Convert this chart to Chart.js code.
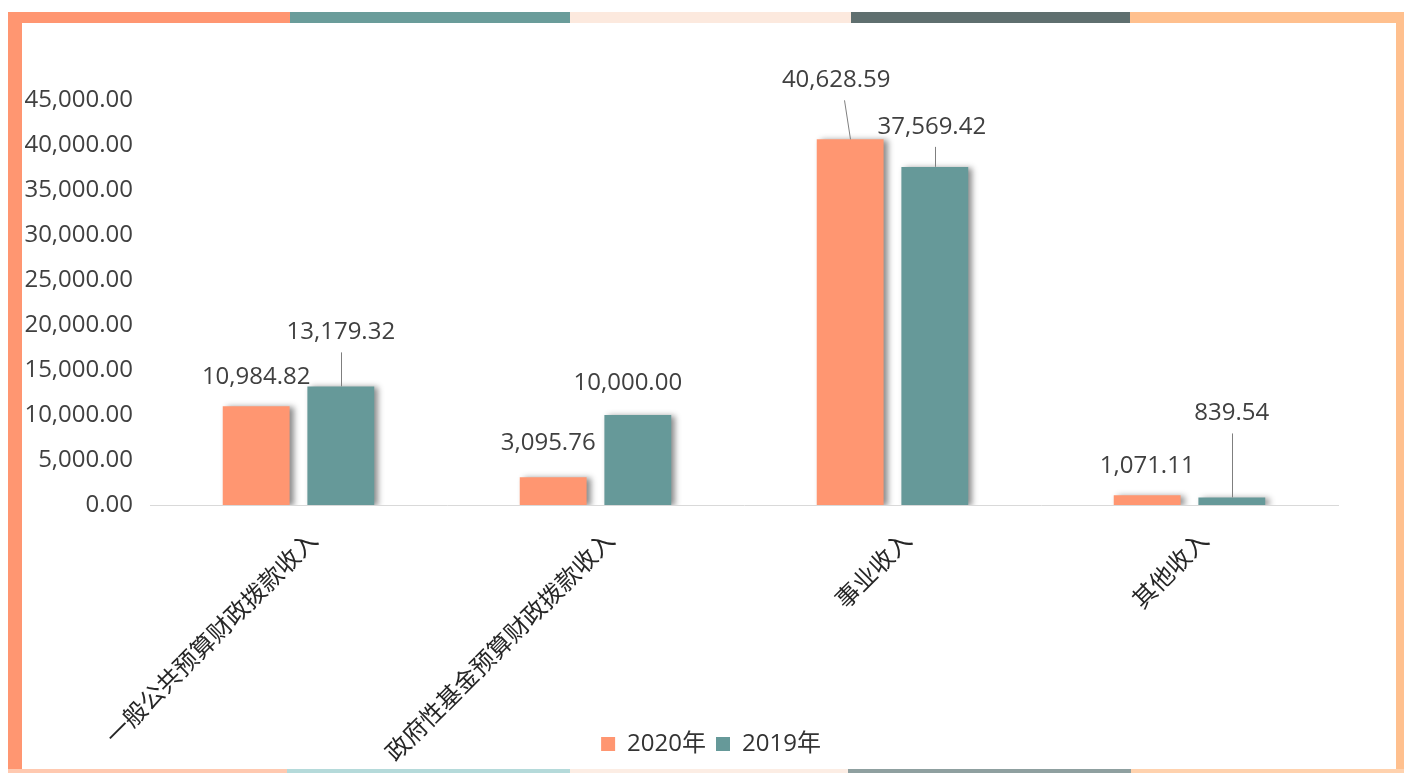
<!DOCTYPE html>
<html>
<head>
<meta charset="utf-8">
<script src="https://cdn.jsdelivr.net/npm/chart.js@4.4.1/dist/chart.umd.min.js"></script>
<style>
  html, body { margin: 0; padding: 0; background: #ffffff; }
  #wrap { position: relative; width: 1407px; height: 773px; overflow: hidden; }
  .seg { position: absolute; }
  canvas { position: absolute; left: 0; top: 0; }
</style>
</head>
<body>
<div id="wrap">
  <!-- decorative frame -->
  <div class="seg" style="left:8px;top:12px;width:282px;height:11px;background:#FF9671"></div>
  <div class="seg" style="left:290px;top:12px;width:280px;height:11px;background:#6A9C9A"></div>
  <div class="seg" style="left:570px;top:12px;width:281px;height:11px;background:#FCE9DE"></div>
  <div class="seg" style="left:851px;top:12px;width:279px;height:11px;background:#5F6F6F"></div>
  <div class="seg" style="left:1130px;top:12px;width:274px;height:11px;background:#FFC08E"></div>
  <div class="seg" style="left:8px;top:12px;width:14px;height:761px;background:#FF9671"></div>
  <div class="seg" style="left:1396px;top:12px;width:8px;height:761px;background:#FFC08E"></div>
  <div class="seg" style="left:8px;top:769px;width:279px;height:4px;background:#FFC9B0"></div>
  <div class="seg" style="left:287px;top:769px;width:283px;height:4px;background:#B5DADA"></div>
  <div class="seg" style="left:570px;top:769px;width:278px;height:4px;background:#FCEDE4"></div>
  <div class="seg" style="left:848px;top:769px;width:283px;height:4px;background:#8FA0A0"></div>
  <div class="seg" style="left:1131px;top:769px;width:273px;height:4px;background:#FFD2AE"></div>
  <canvas id="c" width="1407" height="773"></canvas>
</div>
<script>
// ---- data ----
const categories = ['一般公共预算财政拨款收入', '政府性基金预算财政拨款收入', '事业收入', '其他收入'];
const seriesNames = ['2020年', '2019年'];
const values2020 = [10984.82, 3095.76, 40628.59, 1071.11];
const values2019 = [13179.32, 10000.00, 37569.42, 839.54];
const yTickMin = 0;
const yTickMax = 45000;
const yTickStep = 5000;

// ---- styles ----
const colors = ['#FF9671', '#669999'];
const fontStack = '"Open Sans", "Noto Sans CJK SC", sans-serif';
// label placement (style): [dx, dy above bar top, leader-line top dx] per dataset/index
const labelPlacement = [
  [[0, 29, null], [-5, 34, null], [-14, 59, -6], [0, 29, null]],
  [[0, 54, 0], [-10, 32, null], [-3, 40, 0], [0, 84, 0]]
];

function fmt(v) {
  return v.toLocaleString('en-US', { minimumFractionDigits: 2, maximumFractionDigits: 2 });
}

const layoutTweak = {
  id: 'layoutTweak',
  afterLayout(chart) {
    // let rotated category labels run past the legend box (no clipping)
    chart.scales.x.bottom = chart.height;
    // legend sits slightly right of the plot centre
    if (chart.legend) {
      chart.legend.left += 32;
      chart.legend.right += 32;
    }
  }
};

const shadowPlugin = {
  id: 'barShadow',
  beforeDatasetsDraw(chart) {
    const ctx = chart.ctx;
    ctx.save();
    ctx.shadowColor = 'rgba(0,0,0,0.45)';
    ctx.shadowBlur = 6;
    ctx.shadowOffsetX = 4;
    ctx.shadowOffsetY = 1;
  },
  afterDatasetsDraw(chart) {
    chart.ctx.restore();
  }
};

const labelPlugin = {
  id: 'valueLabels',
  afterDatasetsDraw(chart) {
    const ctx = chart.ctx;
    ctx.save();
    ctx.font = '24px ' + fontStack;
    ctx.fillStyle = '#404040';
    ctx.textAlign = 'center';
    ctx.textBaseline = 'middle';
    ctx.strokeStyle = '#7f7f7f';
    ctx.lineWidth = 1;
    chart.data.datasets.forEach((ds, di) => {
      const meta = chart.getDatasetMeta(di);
      meta.data.forEach((bar, i) => {
        const p = labelPlacement[di][i];
        const tx = bar.x + p[0];
        const ty = bar.y - p[1];
        ctx.fillText(fmt(ds.data[i]), tx, ty);
        if (p[2] !== null) {
          ctx.beginPath();
          ctx.moveTo(Math.round(bar.x + p[2]) + 0.5, ty + 20);
          ctx.lineTo(Math.round(bar.x) + 0.5, bar.y);
          ctx.stroke();
        }
      });
    });
    ctx.restore();
  }
};

new Chart(document.getElementById('c'), {
  type: 'bar',
  data: {
    labels: categories,
    datasets: [
      { label: seriesNames[0], data: values2020, backgroundColor: colors[0] },
      { label: seriesNames[1], data: values2019, backgroundColor: colors[1] }
    ]
  },
  options: {
    responsive: false,
    devicePixelRatio: 1,
    animation: false,
    categoryPercentage: 0.57,
    barPercentage: 0.79,
    layout: { padding: { left: 20, right: 69, top: 100, bottom: 7 } },
    plugins: {
      tooltip: { enabled: false },
      legend: {
        position: 'bottom',
        labels: {
          boxWidth: 14, boxHeight: 14, padding: 10,
          color: '#333333',
          font: { family: fontStack, size: 24 }
        }
      }
    },
    scales: {
      x: {
        afterFit(scale) { scale.height = 217; },
        grid: { display: true, drawOnChartArea: false, drawTicks: false },
        border: { display: true, color: '#d9d9d9', width: 1 },
        ticks: {
          autoSkip: false, minRotation: 45, maxRotation: 45,
          color: '#262626', padding: 22, labelOffset: 16,
          font: { family: fontStack, size: 24 }
        }
      },
      y: {
        min: yTickMin, max: yTickMax,
        afterFit(scale) { scale.width = 130; },
        grid: { display: false },
        border: { display: false },
        ticks: {
          stepSize: yTickStep, padding: 9,
          color: '#404040',
          font: { family: fontStack, size: 24 },
          callback: (v) => fmt(v)
        }
      }
    }
  },
  plugins: [layoutTweak, shadowPlugin, labelPlugin]
});
</script>
</body>
</html>
